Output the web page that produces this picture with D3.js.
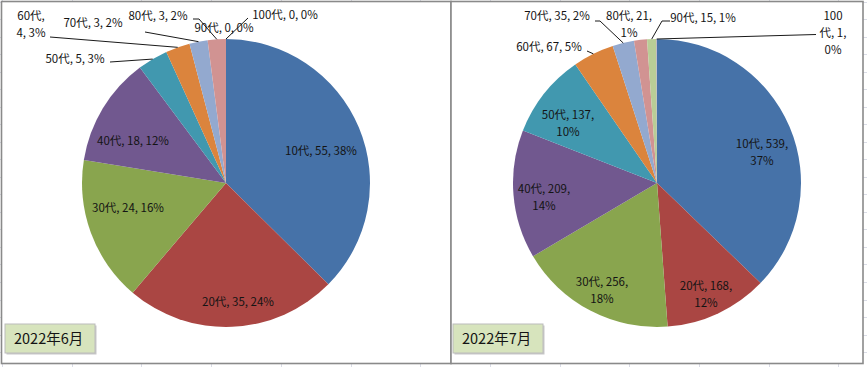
<!DOCTYPE html>
<html>
<head>
<meta charset="utf-8">
<script src="https://cdn.jsdelivr.net/npm/d3@7"></script>
<style>
  body { margin: 0; background: #fff; }
  svg { display: block; }
</style>
</head>
<body>
<div class="container"></div>
<script>
var ages = ["10代", "20代", "30代", "40代", "50代", "60代", "70代", "80代", "90代", "100代"];
var juneValues = [55, 35, 24, 18, 5, 4, 3, 3, 0, 0];
var junePct = [38, 24, 16, 12, 3, 3, 2, 2, 0, 0];
var julyValues = [539, 168, 256, 209, 137, 67, 35, 21, 15, 1];
var julyPct = [37, 12, 18, 14, 10, 5, 2, 1, 1, 0];
var titles = ["2022年6月", "2022年7月"];

var colors = ["#4672a8", "#aa4643", "#89a54e", "#71588f", "#4198af",
              "#db843d", "#93a9cf", "#d19392", "#b9cd96", "#a99bbd"];

var w = 867, h = 367;
var r = 144;

// label layout: offset from pie centre, chars on first lines, leader start
var juneLayout = [
  {dx: 95, dy: -32},
  {dx: 12, dy: 119},
  {dx: -98, dy: 25},
  {dx: -93, dy: -42},
  {dx: -151, dy: -124, lx: -116, ly: -121},
  {dx: -195, dy: -159, wrap: [4], lx: -176, ly: -146},
  {dx: -133, dy: -160, lx: -81, ly: -151},
  {dx: -68, dy: -167, lx: -33, ly: -164, lx2: -27},
  {dx: -2, dy: -155},
  {dx: 59, dy: -168, lx: 22, ly: -165}
];
var julyLayout = [
  {dx: 105, dy: -31, wrap: [9]},
  {dx: 49, dy: 111, wrap: [9]},
  {dx: -55, dy: 107, wrap: [9]},
  {dx: -113, dy: 14, wrap: [9]},
  {dx: -89, dy: -60, wrap: [9]},
  {dx: -108, dy: -136, lx: -70, ly: -132},
  {dx: -100, dy: -167, lx: -62, ly: -162, lx2: -57},
  {dx: -28, dy: -159, wrap: [8]},
  {dx: 46, dy: -165, lx: 13, ly: -162, lx2: 5},
  {dx: 176, dy: -150, wrap: [3, 5], lx: 159, ly: -148.5}
];

var svg = d3.select(".container")
    .append("svg")
    .attr("width", w)
    .attr("height", h);

// spreadsheet grid behind the charts
var grid = svg.append("g").attr("stroke", "#dadce6").attr("stroke-width", 1);
d3.range(0, 13).forEach(function(k) {
    var x = Math.round(2 + 69.7 * k) + 0.5;
    grid.append("line").attr("x1", x).attr("x2", x).attr("y1", 0).attr("y2", h);
});
d3.range(0, 22).forEach(function(k) {
    var y = Math.round(1.5 + 17.53 * k) + 0.5;
    grid.append("line").attr("x1", 0).attr("x2", w).attr("y1", y).attr("y2", y);
});

var panels = [
  {x: 1.5, width: 449.5, cx: 226, values: juneValues, pct: junePct, layout: juneLayout, title: titles[0], bx: 5},
  {x: 451, width: 412, cx: 657, values: julyValues, pct: julyPct, layout: julyLayout, title: titles[1], bx: 453}
];

var pie = d3.pie().sort(null).value(function(d) { return d; });
var arc = d3.arc().innerRadius(0).outerRadius(r);

function splitLabel(s, wrap) {
    if (!wrap) return [s];
    var lines = [], pos = 0;
    wrap.forEach(function(n) {
        lines.push(s.slice(pos, pos + n).trim());
        pos += n;
    });
    lines.push(s.slice(pos).trim());
    return lines;
}

panels.forEach(function(p) {
    var cy = 183;
    svg.append("rect")
        .attr("x", p.x)
        .attr("y", 1.5)
        .attr("width", p.width)
        .attr("height", 362)
        .attr("fill", "#fff")
        .attr("stroke", "#8a8a8a")
        .attr("stroke-width", 1.6);

    var g = svg.append("g").attr("transform", "translate(" + p.cx + "," + cy + ")");
    var arcs = pie(p.values);

    g.selectAll("path")
        .data(arcs)
        .enter()
        .append("path")
        .attr("d", arc)
        .attr("fill", function(d, i) { return colors[i]; });

    // leader lines
    arcs.forEach(function(d, i) {
        var L = p.layout[i];
        if (L.lx === undefined) return;
        var mid = (d.startAngle + d.endAngle) / 2;
        var ex = r * Math.sin(mid), ey = -r * Math.cos(mid);
        var pts = [[L.lx, L.ly]];
        if (L.lx2 !== undefined) pts.push([L.lx2, L.ly]);
        pts.push([ex, ey]);
        g.append("path")
            .attr("d", d3.line()(pts))
            .attr("fill", "none")
            .attr("stroke", "#1a1a1a")
            .attr("stroke-width", 1);
    });

    // data labels
    arcs.forEach(function(d, i) {
        var L = p.layout[i];
        var s = ages[i] + ", " + p.values[i] + ", " + p.pct[i] + "%";
        var lines = splitLabel(s, L.wrap);
        var lh = 17;
        var t = g.append("text")
            .attr("text-anchor", "middle")
            .attr("font-family", "'Noto Sans CJK JP', 'Noto Sans', sans-serif")
            .attr("font-size", "11.5px")
            .attr("fill", "#141414");
        lines.forEach(function(line, k) {
            t.append("tspan")
                .attr("x", L.dx)
                .attr("y", L.dy + (k - (lines.length - 1) / 2) * lh + 4)
                .text(line);
        });
    });

    // month box
    svg.append("rect")
        .attr("x", p.bx + 1.5)
        .attr("y", 325.5)
        .attr("width", 90)
        .attr("height", 29)
        .attr("fill", "#c8c8c8");
    svg.append("rect")
        .attr("x", p.bx)
        .attr("y", 324)
        .attr("width", 90)
        .attr("height", 29)
        .attr("fill", "#d7e4bd")
        .attr("stroke", "#bcbcbc")
        .attr("stroke-width", 1);
    svg.append("text")
        .attr("x", p.bx + 9)
        .attr("y", 344)
        .attr("font-family", "'Noto Sans CJK JP', sans-serif")
        .attr("font-size", "14.5px")
        .attr("fill", "#141414")
        .text(p.title);
});
</script>
</body>
</html>
